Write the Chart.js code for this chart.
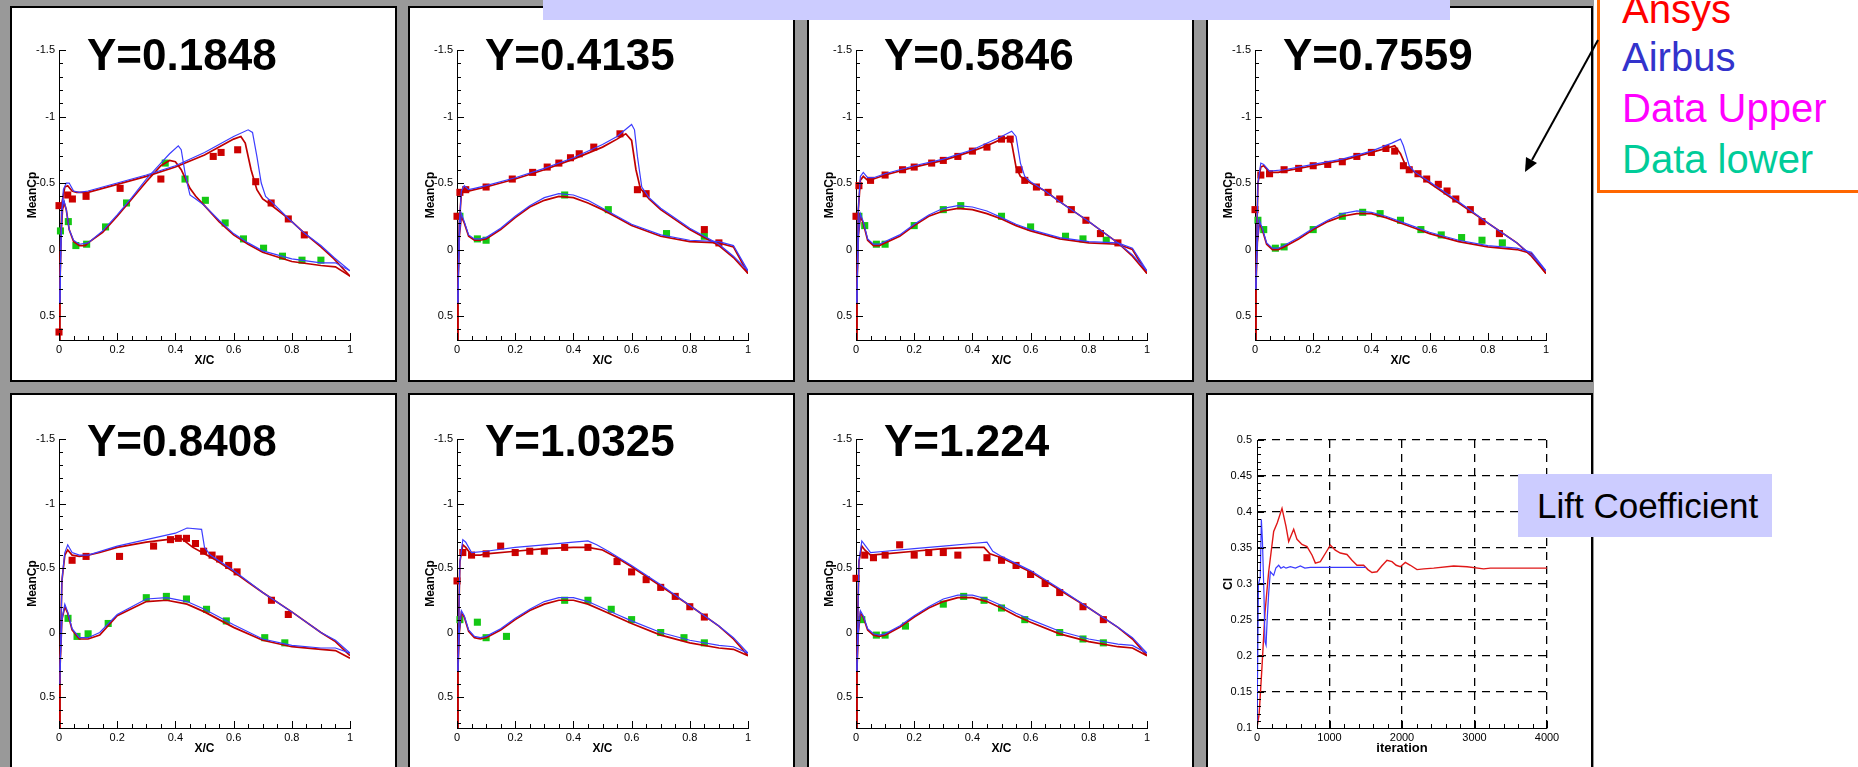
<!DOCTYPE html>
<html>
<head>
<meta charset="utf-8">
<script src="https://cdn.jsdelivr.net/npm/chart.js@4.4.0/dist/chart.umd.min.js"></script>
<style>
  body { margin: 0; width: 1858px; height: 767px; overflow: hidden; background: #fff; position: relative;
         font-family: "Liberation Sans", Arial, sans-serif; }
  #bg { position: absolute; left: 0; top: 0; width: 1594px; height: 767px; background: #999; }
  .panel { position: absolute; background: #fff; border: 2px solid #000; box-sizing: border-box; }
  .panel canvas { position: absolute; left: -2px; top: -2px; }
  .ttl { position: absolute; left: 75px; font-weight: bold; font-size: 44px; line-height: 44px; color: #000; white-space: nowrap; }
  #banner { position: absolute; left: 543px; top: 0; width: 907px; height: 20px; background: #ccccff; }
  #legend { position: absolute; left: 1597px; top: -10px; width: 300px; height: 203px; border: 3px solid #ff6600;
            background: #fff; box-sizing: border-box; }
  .leg { position: absolute; left: 1622px; font-size: 40px; line-height: 40px; white-space: nowrap; }
  #lift { position: absolute; left: 1518px; top: 474px; width: 254px; height: 63px; background: #ccccff;
          font-size: 35px; line-height: 63px; padding-left: 19px; box-sizing: border-box; color: #000; white-space: nowrap; }
  #arrow { position: absolute; left: 0; top: 0; }
</style>
</head>
<body>
<div id="bg"></div>
<div id="panels"></div>
<div id="banner"></div>
<div id="legend"></div>
<div class="leg" style="top:-11px;color:#ff0000">Ansys</div>
<div class="leg" style="top:37px;color:#3333cc">Airbus</div>
<div class="leg" style="top:88px;color:#ff00ff">Data Upper</div>
<div class="leg" style="top:139px;color:#00cc99">Data lower</div>
<svg id="arrow" width="1858" height="767">
  <line x1="1598" y1="40" x2="1532" y2="160" stroke="#000" stroke-width="2"/>
  <polygon points="1525,172 1537,163 1526,157" fill="#000"/>
</svg>
<div id="lift">Lift Coefficient</div>

<script>
// ---- spanwise stations ----
const stationTitles = ["Y=0.1848", "Y=0.4135", "Y=0.5846", "Y=0.7559", "Y=0.8408", "Y=1.0325", "Y=1.224"];

// ---- Y=0.1848 ----
const ansysUp1 = [[0,0.9],[0.002,0.5],[0.005,0.0],[0.01,-0.35],[0.02,-0.47],[0.03,-0.48],[0.045,-0.44],[0.06,-0.43],[0.1,-0.43],[0.15,-0.46],[0.2,-0.49],[0.3,-0.55],[0.4,-0.62],[0.5,-0.71],[0.55,-0.77],[0.6,-0.83],[0.625,-0.85],[0.64,-0.8],[0.66,-0.6],[0.68,-0.45],[0.7,-0.38],[0.72,-0.35],[0.79,-0.23],[0.845,-0.12],[0.9,-0.02],[0.945,0.07],[1,0.2]];
const airbusUp1 = [[0.003,0.4],[0.006,0.0],[0.01,-0.3],[0.015,-0.45],[0.025,-0.5],[0.035,-0.5],[0.05,-0.44],[0.07,-0.43],[0.1,-0.44],[0.2,-0.5],[0.3,-0.56],[0.4,-0.63],[0.5,-0.73],[0.55,-0.79],[0.6,-0.85],[0.65,-0.9],[0.665,-0.88],[0.68,-0.7],[0.695,-0.5],[0.71,-0.4],[0.73,-0.36],[0.79,-0.23],[0.845,-0.12],[0.9,-0.03],[0.945,0.06],[1,0.16]];
const ansysLo1 = [[0,0.9],[0.003,0.3],[0.007,-0.1],[0.012,-0.3],[0.018,-0.35],[0.025,-0.3],[0.035,-0.15],[0.05,-0.06],[0.07,-0.03],[0.09,-0.03],[0.1,-0.05],[0.15,-0.13],[0.2,-0.25],[0.25,-0.38],[0.3,-0.51],[0.35,-0.63],[0.38,-0.67],[0.4,-0.66],[0.42,-0.6],[0.45,-0.46],[0.47,-0.4],[0.5,-0.33],[0.55,-0.21],[0.6,-0.11],[0.65,-0.04],[0.7,0.02],[0.8,0.09],[0.9,0.12],[0.95,0.13],[1,0.2]];
const airbusLo1 = [[0.003,0.4],[0.006,0.0],[0.01,-0.3],[0.017,-0.37],[0.025,-0.3],[0.035,-0.15],[0.05,-0.07],[0.07,-0.04],[0.1,-0.05],[0.15,-0.14],[0.2,-0.26],[0.25,-0.39],[0.3,-0.53],[0.35,-0.65],[0.38,-0.72],[0.41,-0.78],[0.42,-0.75],[0.435,-0.55],[0.45,-0.41],[0.47,-0.38],[0.5,-0.33],[0.55,-0.22],[0.6,-0.12],[0.65,-0.05],[0.7,0.01],[0.8,0.07],[0.9,0.1],[0.95,0.1],[1,0.16]];
const expUp1 = [[0,0.62],[0,-0.33],[0.03,-0.41],[0.046,-0.38],[0.093,-0.4],[0.21,-0.46],[0.35,-0.53],[0.53,-0.7],[0.557,-0.73],[0.614,-0.75],[0.676,-0.51],[0.729,-0.35],[0.788,-0.23],[0.843,-0.11]];
const expLo1 = [[0.005,-0.14],[0.032,-0.21],[0.058,-0.03],[0.095,-0.04],[0.16,-0.17],[0.232,-0.35],[0.365,-0.65],[0.433,-0.53],[0.503,-0.37],[0.571,-0.2],[0.634,-0.08],[0.703,-0.01],[0.768,0.05],[0.835,0.08],[0.9,0.08]];

// ---- Y=0.4135 ----
const ansysUp2 = [[0,0.9],[0.003,0.3],[0.008,-0.2],[0.015,-0.42],[0.025,-0.46],[0.04,-0.44],[0.06,-0.45],[0.1,-0.47],[0.2,-0.53],[0.3,-0.6],[0.4,-0.68],[0.5,-0.77],[0.55,-0.83],[0.58,-0.87],[0.6,-0.82],[0.615,-0.6],[0.63,-0.46],[0.66,-0.38],[0.7,-0.3],[0.8,-0.15],[0.9,-0.03],[0.95,0.06],[1,0.18]];
const airbusUp2 = [[0.003,0.4],[0.008,-0.2],[0.015,-0.44],[0.025,-0.48],[0.04,-0.45],[0.06,-0.46],[0.1,-0.48],[0.2,-0.54],[0.3,-0.61],[0.4,-0.69],[0.5,-0.79],[0.55,-0.85],[0.6,-0.94],[0.61,-0.9],[0.62,-0.7],[0.635,-0.47],[0.66,-0.39],[0.7,-0.31],[0.8,-0.16],[0.9,-0.04],[0.95,0.05],[1,0.16]];
const ansysLo2 = [[0,0.9],[0.003,0.3],[0.008,-0.1],[0.015,-0.25],[0.025,-0.2],[0.04,-0.1],[0.06,-0.07],[0.08,-0.07],[0.1,-0.08],[0.15,-0.15],[0.2,-0.24],[0.25,-0.32],[0.3,-0.37],[0.35,-0.4],[0.4,-0.39],[0.45,-0.35],[0.5,-0.3],[0.55,-0.24],[0.6,-0.18],[0.7,-0.1],[0.8,-0.06],[0.9,-0.05],[0.95,-0.02],[1,0.18]];
const airbusLo2 = [[0.003,0.4],[0.008,-0.1],[0.015,-0.27],[0.025,-0.21],[0.04,-0.11],[0.06,-0.08],[0.08,-0.08],[0.1,-0.09],[0.15,-0.16],[0.2,-0.25],[0.25,-0.33],[0.3,-0.39],[0.35,-0.42],[0.4,-0.41],[0.45,-0.37],[0.5,-0.31],[0.55,-0.25],[0.6,-0.19],[0.7,-0.11],[0.8,-0.07],[0.9,-0.06],[0.95,-0.03],[1,0.16]];
const expUp2 = [[0,-0.25],[0.01,-0.43],[0.03,-0.45],[0.1,-0.47],[0.19,-0.53],[0.26,-0.58],[0.31,-0.62],[0.35,-0.65],[0.39,-0.69],[0.42,-0.72],[0.47,-0.77],[0.56,-0.87],[0.62,-0.45],[0.65,-0.42],[0.85,-0.15],[0.9,-0.05]];
const expLo2 = [[0.01,-0.25],[0.07,-0.08],[0.1,-0.07],[0.37,-0.41],[0.52,-0.3],[0.72,-0.12],[0.85,-0.1]];

// ---- Y=0.5846 ----
const ansysUp3 = [[0,0.9],[0.003,0.3],[0.008,-0.3],[0.015,-0.52],[0.025,-0.55],[0.04,-0.52],[0.06,-0.53],[0.1,-0.56],[0.2,-0.62],[0.3,-0.67],[0.4,-0.74],[0.45,-0.78],[0.5,-0.83],[0.52,-0.84],[0.535,-0.8],[0.55,-0.62],[0.565,-0.55],[0.6,-0.5],[0.65,-0.44],[0.7,-0.36],[0.8,-0.21],[0.9,-0.05],[0.95,0.05],[1,0.18]];
const airbusUp3 = [[0.003,0.4],[0.008,-0.3],[0.015,-0.55],[0.025,-0.58],[0.04,-0.54],[0.06,-0.54],[0.1,-0.57],[0.2,-0.63],[0.3,-0.68],[0.4,-0.75],[0.5,-0.85],[0.535,-0.89],[0.55,-0.85],[0.565,-0.65],[0.58,-0.55],[0.6,-0.51],[0.65,-0.44],[0.7,-0.36],[0.8,-0.21],[0.9,-0.05],[0.95,0.04],[1,0.16]];
const ansysLo3 = [[0,0.9],[0.003,0.3],[0.008,-0.1],[0.015,-0.25],[0.025,-0.2],[0.04,-0.07],[0.06,-0.03],[0.08,-0.03],[0.1,-0.05],[0.15,-0.1],[0.2,-0.18],[0.25,-0.25],[0.3,-0.29],[0.35,-0.31],[0.4,-0.3],[0.45,-0.27],[0.5,-0.23],[0.55,-0.18],[0.6,-0.14],[0.7,-0.08],[0.8,-0.05],[0.9,-0.04],[0.95,0.0],[1,0.18]];
const airbusLo3 = [[0.003,0.4],[0.008,-0.1],[0.015,-0.27],[0.025,-0.21],[0.04,-0.08],[0.06,-0.04],[0.08,-0.04],[0.1,-0.06],[0.15,-0.11],[0.2,-0.19],[0.25,-0.26],[0.3,-0.31],[0.35,-0.33],[0.4,-0.32],[0.45,-0.29],[0.5,-0.24],[0.55,-0.19],[0.6,-0.15],[0.7,-0.09],[0.8,-0.06],[0.9,-0.05],[0.95,-0.01],[1,0.16]];
const expUp3 = [[0,-0.25],[0.01,-0.48],[0.05,-0.52],[0.1,-0.56],[0.16,-0.6],[0.2,-0.62],[0.26,-0.65],[0.3,-0.67],[0.35,-0.7],[0.4,-0.74],[0.45,-0.77],[0.5,-0.83],[0.53,-0.83],[0.56,-0.6],[0.58,-0.52],[0.62,-0.47],[0.66,-0.43],[0.7,-0.38],[0.74,-0.3],[0.79,-0.22],[0.84,-0.12],[0.9,-0.05]];
const expLo3 = [[0.01,-0.25],[0.03,-0.18],[0.07,-0.04],[0.1,-0.04],[0.2,-0.18],[0.3,-0.3],[0.36,-0.33],[0.5,-0.25],[0.6,-0.17],[0.72,-0.1],[0.78,-0.08],[0.86,-0.07]];

// ---- Y=0.7559 ----
const ansysUp4 = [[0,0.9],[0.003,0.2],[0.01,-0.5],[0.02,-0.62],[0.03,-0.63],[0.05,-0.58],[0.08,-0.58],[0.1,-0.59],[0.2,-0.63],[0.3,-0.67],[0.4,-0.73],[0.45,-0.76],[0.48,-0.78],[0.5,-0.72],[0.52,-0.62],[0.55,-0.58],[0.6,-0.5],[0.7,-0.35],[0.8,-0.2],[0.9,-0.05],[0.95,0.05],[1,0.18]];
const airbusUp4 = [[0.003,0.3],[0.01,-0.5],[0.02,-0.65],[0.03,-0.64],[0.05,-0.59],[0.1,-0.6],[0.2,-0.64],[0.3,-0.68],[0.4,-0.74],[0.47,-0.8],[0.5,-0.83],[0.51,-0.78],[0.53,-0.63],[0.55,-0.58],[0.6,-0.51],[0.7,-0.36],[0.8,-0.2],[0.9,-0.05],[0.95,0.04],[1,0.16]];
const ansysLo4 = [[0,0.9],[0.003,0.3],[0.008,-0.05],[0.015,-0.2],[0.025,-0.15],[0.04,-0.04],[0.06,0.0],[0.08,0.0],[0.1,-0.02],[0.15,-0.08],[0.2,-0.15],[0.25,-0.21],[0.3,-0.25],[0.35,-0.27],[0.4,-0.27],[0.45,-0.24],[0.5,-0.2],[0.55,-0.16],[0.6,-0.12],[0.7,-0.06],[0.8,-0.02],[0.9,0.0],[0.95,0.03],[1,0.18]];
const airbusLo4 = [[0.003,0.3],[0.008,-0.05],[0.015,-0.22],[0.025,-0.16],[0.04,-0.05],[0.06,-0.01],[0.08,-0.01],[0.1,-0.03],[0.15,-0.09],[0.2,-0.16],[0.25,-0.22],[0.3,-0.27],[0.35,-0.29],[0.4,-0.28],[0.45,-0.25],[0.5,-0.21],[0.55,-0.17],[0.6,-0.13],[0.7,-0.07],[0.8,-0.03],[0.9,-0.01],[0.95,0.02],[1,0.16]];
const expUp4 = [[0,-0.3],[0.02,-0.56],[0.05,-0.57],[0.1,-0.6],[0.15,-0.61],[0.2,-0.63],[0.25,-0.64],[0.3,-0.66],[0.35,-0.7],[0.4,-0.73],[0.45,-0.76],[0.48,-0.74],[0.51,-0.63],[0.53,-0.6],[0.56,-0.57],[0.59,-0.53],[0.63,-0.49],[0.66,-0.44],[0.69,-0.38],[0.74,-0.3],[0.78,-0.21],[0.84,-0.12]];
const expLo4 = [[0.01,-0.22],[0.03,-0.15],[0.07,-0.01],[0.1,-0.02],[0.2,-0.15],[0.3,-0.25],[0.37,-0.28],[0.43,-0.27],[0.5,-0.22],[0.57,-0.15],[0.64,-0.11],[0.71,-0.09],[0.78,-0.07],[0.85,-0.05]];

// ---- Y=0.8408 ----
const ansysUp5 = [[0,0.9],[0.003,0.3],[0.01,-0.4],[0.02,-0.6],[0.03,-0.64],[0.045,-0.6],[0.07,-0.59],[0.1,-0.6],[0.14,-0.62],[0.2,-0.66],[0.3,-0.7],[0.37,-0.72],[0.42,-0.73],[0.46,-0.66],[0.5,-0.61],[0.54,-0.56],[0.6,-0.47],[0.65,-0.39],[0.7,-0.31],[0.8,-0.16],[0.9,0.0],[0.95,0.07],[1,0.18]];
const airbusUp5 = [[0.003,0.4],[0.01,-0.4],[0.02,-0.62],[0.03,-0.68],[0.045,-0.62],[0.07,-0.6],[0.1,-0.6],[0.2,-0.67],[0.3,-0.72],[0.4,-0.77],[0.44,-0.81],[0.49,-0.8],[0.5,-0.66],[0.52,-0.6],[0.6,-0.48],[0.7,-0.31],[0.8,-0.16],[0.9,0.0],[0.95,0.06],[1,0.16]];
const ansysLo5 = [[0,0.9],[0.003,0.3],[0.01,-0.1],[0.02,-0.2],[0.03,-0.15],[0.045,-0.02],[0.07,0.05],[0.1,0.05],[0.14,0.02],[0.2,-0.13],[0.3,-0.24],[0.37,-0.25],[0.44,-0.22],[0.5,-0.16],[0.6,-0.04],[0.7,0.06],[0.8,0.11],[0.9,0.13],[0.95,0.14],[1,0.2]];
const airbusLo5 = [[0.003,0.3],[0.01,-0.1],[0.02,-0.22],[0.03,-0.16],[0.045,-0.03],[0.07,0.04],[0.1,0.04],[0.14,0.0],[0.2,-0.14],[0.3,-0.26],[0.37,-0.27],[0.44,-0.24],[0.5,-0.18],[0.6,-0.06],[0.7,0.05],[0.8,0.1],[0.9,0.12],[0.95,0.12],[1,0.16]];
const expUp5 = [[0.045,-0.56],[0.093,-0.59],[0.208,-0.59],[0.325,-0.67],[0.383,-0.72],[0.41,-0.73],[0.438,-0.73],[0.469,-0.69],[0.497,-0.63],[0.526,-0.6],[0.552,-0.57],[0.583,-0.52],[0.612,-0.47],[0.73,-0.25],[0.788,-0.14]];
const expLo5 = [[0.031,-0.11],[0.062,0.03],[0.1,0.01],[0.169,-0.07],[0.3,-0.27],[0.369,-0.28],[0.438,-0.26],[0.507,-0.18],[0.575,-0.09],[0.707,0.04],[0.776,0.08]];

// ---- Y=1.0325 ----
const ansysUp6 = [[0,0.9],[0.003,0.2],[0.01,-0.55],[0.02,-0.68],[0.03,-0.66],[0.05,-0.6],[0.08,-0.6],[0.1,-0.61],[0.2,-0.63],[0.3,-0.65],[0.4,-0.66],[0.45,-0.66],[0.5,-0.64],[0.55,-0.58],[0.6,-0.51],[0.7,-0.36],[0.8,-0.21],[0.9,-0.05],[0.95,0.05],[1,0.18]];
const airbusUp6 = [[0.003,0.3],[0.01,-0.55],[0.02,-0.72],[0.03,-0.7],[0.05,-0.62],[0.1,-0.63],[0.2,-0.66],[0.3,-0.68],[0.4,-0.7],[0.45,-0.71],[0.48,-0.68],[0.52,-0.63],[0.6,-0.52],[0.7,-0.37],[0.8,-0.21],[0.9,-0.05],[0.95,0.04],[1,0.16]];
const ansysLo6 = [[0,0.9],[0.003,0.3],[0.008,0.0],[0.015,-0.15],[0.025,-0.12],[0.04,-0.01],[0.06,0.04],[0.08,0.05],[0.1,0.04],[0.15,-0.02],[0.2,-0.1],[0.25,-0.17],[0.3,-0.22],[0.35,-0.25],[0.4,-0.25],[0.45,-0.22],[0.5,-0.17],[0.55,-0.12],[0.6,-0.07],[0.7,0.02],[0.8,0.08],[0.9,0.12],[0.95,0.13],[1,0.18]];
const airbusLo6 = [[0.003,0.3],[0.008,0.0],[0.015,-0.17],[0.025,-0.13],[0.04,-0.02],[0.06,0.03],[0.08,0.04],[0.1,0.03],[0.15,-0.03],[0.2,-0.11],[0.25,-0.18],[0.3,-0.24],[0.35,-0.27],[0.4,-0.27],[0.45,-0.24],[0.5,-0.19],[0.55,-0.14],[0.6,-0.09],[0.7,0.0],[0.8,0.06],[0.9,0.1],[0.95,0.11],[1,0.16]];
const expUp6 = [[0,-0.4],[0.02,-0.62],[0.05,-0.6],[0.1,-0.61],[0.15,-0.67],[0.2,-0.62],[0.25,-0.63],[0.3,-0.63],[0.37,-0.66],[0.45,-0.66],[0.55,-0.55],[0.6,-0.47],[0.65,-0.41],[0.7,-0.35],[0.75,-0.28],[0.8,-0.2],[0.85,-0.12]];
const expLo6 = [[0.01,-0.1],[0.07,-0.08],[0.1,0.04],[0.17,0.03],[0.37,-0.25],[0.45,-0.25],[0.53,-0.18],[0.6,-0.1],[0.7,0.0],[0.78,0.04],[0.85,0.08]];

// ---- Y=1.224 ----
const ansysUp7 = [[0,0.9],[0.003,0.2],[0.01,-0.55],[0.02,-0.67],[0.03,-0.64],[0.05,-0.6],[0.1,-0.61],[0.2,-0.63],[0.3,-0.65],[0.4,-0.66],[0.44,-0.66],[0.46,-0.61],[0.5,-0.58],[0.6,-0.47],[0.7,-0.33],[0.8,-0.19],[0.9,-0.04],[0.95,0.05],[1,0.18]];
const airbusUp7 = [[0.003,0.3],[0.01,-0.55],[0.02,-0.71],[0.03,-0.68],[0.05,-0.62],[0.1,-0.63],[0.2,-0.65],[0.3,-0.67],[0.4,-0.69],[0.45,-0.7],[0.47,-0.63],[0.5,-0.59],[0.6,-0.48],[0.7,-0.34],[0.8,-0.19],[0.9,-0.04],[0.95,0.04],[1,0.16]];
const ansysLo7 = [[0,0.9],[0.003,0.3],[0.008,0.0],[0.015,-0.15],[0.025,-0.12],[0.04,-0.02],[0.06,0.02],[0.08,0.03],[0.1,0.02],[0.15,-0.04],[0.2,-0.12],[0.25,-0.19],[0.3,-0.24],[0.35,-0.27],[0.4,-0.27],[0.45,-0.24],[0.5,-0.19],[0.55,-0.13],[0.6,-0.08],[0.7,0.01],[0.8,0.07],[0.9,0.11],[0.95,0.12],[1,0.18]];
const airbusLo7 = [[0.003,0.3],[0.008,0.0],[0.015,-0.17],[0.025,-0.13],[0.04,-0.03],[0.06,0.01],[0.08,0.02],[0.1,0.01],[0.15,-0.05],[0.2,-0.13],[0.25,-0.2],[0.3,-0.26],[0.35,-0.29],[0.4,-0.29],[0.45,-0.26],[0.5,-0.21],[0.55,-0.15],[0.6,-0.1],[0.7,-0.01],[0.8,0.05],[0.9,0.09],[0.95,0.1],[1,0.16]];
const expUp7 = [[0,-0.42],[0.03,-0.6],[0.06,-0.58],[0.1,-0.6],[0.15,-0.68],[0.2,-0.6],[0.25,-0.62],[0.3,-0.62],[0.35,-0.6],[0.45,-0.58],[0.5,-0.56],[0.55,-0.52],[0.6,-0.45],[0.65,-0.38],[0.7,-0.31],[0.78,-0.2],[0.85,-0.1]];
const expLo7 = [[0.02,-0.1],[0.07,0.02],[0.1,0.02],[0.17,-0.05],[0.3,-0.22],[0.37,-0.28],[0.44,-0.25],[0.5,-0.19],[0.58,-0.1],[0.7,0.0],[0.78,0.05],[0.85,0.08]];

// ---- lift coefficient history ----
const ansysIter = [0,30,69,110,161,230,280,345,400,437,506,552,620,690,760,805,874,940,1012,1080,1149,1241,1310,1379,1471,1530,1586,1655,1720,1793,1862,1920,1977,2046,2115,2207,2300,2437,2713,2897,3126,3218,3500,4000];
const ansysCl = [0.1,0.12,0.185,0.26,0.317,0.373,0.385,0.405,0.38,0.359,0.376,0.362,0.355,0.352,0.34,0.329,0.331,0.342,0.354,0.347,0.343,0.341,0.333,0.326,0.326,0.32,0.316,0.317,0.325,0.333,0.331,0.326,0.324,0.33,0.326,0.32,0.321,0.322,0.325,0.324,0.321,0.322,0.322,0.322];
const airbusIter = [0,20,45,60,75,95,110,125,140,161,184,230,260,299,330,368,400,460,530,598,660,736,1000,1500];
const airbusCl = [0.1,0.3,0.31,0.39,0.36,0.29,0.22,0.215,0.25,0.287,0.317,0.312,0.322,0.326,0.322,0.324,0.322,0.324,0.322,0.325,0.322,0.323,0.323,0.323];

const cpData = [
  [ansysUp1, ansysLo1, airbusUp1, airbusLo1, expUp1, expLo1],
  [ansysUp2, ansysLo2, airbusUp2, airbusLo2, expUp2, expLo2],
  [ansysUp3, ansysLo3, airbusUp3, airbusLo3, expUp3, expLo3],
  [ansysUp4, ansysLo4, airbusUp4, airbusLo4, expUp4, expLo4],
  [ansysUp5, ansysLo5, airbusUp5, airbusLo5, expUp5, expLo5],
  [ansysUp6, ansysLo6, airbusUp6, airbusLo6, expUp6, expLo6],
  [ansysUp7, ansysLo7, airbusUp7, airbusLo7, expUp7, expLo7]
];

const FONT = "Liberation Sans";
Chart.defaults.font.family = FONT;
Chart.defaults.color = "#000";

const ANSYS_RED = "#c00000";
const AIRBUS_BLUE = "#3c3cff";

// plain number labels: -1 not -1.0, 0.5 not 0.50
const plainLabel = v => String(Math.round(v * 1000) / 1000);

// Tecplot style inward ticks, major and minor
const tecTicks = {
  id: "tecTicks",
  afterDraw(chart, args, o) {
    const { ctx, chartArea: a } = chart;
    const xs = chart.scales.x, ys = chart.scales.y;
    ctx.save();
    ctx.strokeStyle = "#000";
    ctx.lineWidth = 1;
    ctx.beginPath();
    const isMajor = (v, step) => Math.abs(v / step - Math.round(v / step)) < 1e-6;
    for (let i = Math.ceil(xs.min / o.xMinor - 1e-6); i <= Math.floor(xs.max / o.xMinor + 1e-6); i++) {
      const v = i * o.xMinor;
      const px = Math.round(xs.getPixelForValue(v)) + 0.5;
      const len = isMajor(v, o.xMajor) ? 7 : 4;
      ctx.moveTo(px, a.bottom);
      ctx.lineTo(px, a.bottom - len);
    }
    for (let i = Math.ceil(ys.min / o.yMinor - 1e-6); i <= Math.floor(ys.max / o.yMinor + 1e-6); i++) {
      const v = i * o.yMinor;
      const py = Math.round(ys.getPixelForValue(v)) + 0.5;
      const len = isMajor(v, o.yMajor) ? 7 : 4;
      ctx.moveTo(a.left, py);
      ctx.lineTo(a.left + len, py);
    }
    ctx.stroke();
    ctx.restore();
  }
};

function xy(arr) {
  return arr.map(p => ({ x: p[0], y: p[1] }));
}
function lineSet(arr, color, w) {
  return { data: xy(arr), showLine: true, borderColor: color, borderWidth: w, pointRadius: 0, tension: 0 };
}
function dotSet(arr, color) {
  return { data: xy(arr), showLine: false, pointStyle: "rect", pointRadius: 5, pointBorderWidth: 0,
           pointBackgroundColor: color, backgroundColor: color, clip: false };
}

const panelLeft = [10, 408, 807, 1206];
const rowTop = [6, 393];
const rowHeight = [376, 380];
// chart area inside a panel, per row: top, bottom, y max
const rowArea = [{ top: 44, bottom: 334, ymax: 0.68 }, { top: 46, bottom: 335, ymax: 0.74 }];
const PW = 387;

const holder = document.getElementById("panels");

function makePanel(col, row) {
  const div = document.createElement("div");
  div.className = "panel";
  div.style.left = panelLeft[col] + "px";
  div.style.top = rowTop[row] + "px";
  div.style.width = PW + "px";
  div.style.height = rowHeight[row] + "px";
  const cv = document.createElement("canvas");
  cv.width = PW;
  cv.height = rowHeight[row];
  div.appendChild(cv);
  holder.appendChild(div);
  return { div, cv };
}

stationTitles.forEach((title, k) => {
  const col = k % 4, row = Math.floor(k / 4);
  const { div, cv } = makePanel(col, row);
  const t = document.createElement("div");
  t.className = "ttl";
  t.style.top = (row === 0 ? 25 : 24) + "px";
  t.textContent = title;
  div.appendChild(t);

  const [aU, aL, bU, bL, eU, eL] = cpData[k];
  const area = rowArea[row];
  const H = rowHeight[row];
  new Chart(cv, {
    type: "scatter",
    data: {
      datasets: [
        lineSet(bU, AIRBUS_BLUE, 1.2), lineSet(bL, AIRBUS_BLUE, 1.2),
        lineSet(aU, ANSYS_RED, 1.7), lineSet(aL, ANSYS_RED, 1.7),
        dotSet(eU, "#cc0000"), dotSet(eL, "#14c814")
      ]
    },
    options: {
      responsive: false,
      animation: false,
      events: [],
      layout: { padding: { left: 0, top: area.top, right: PW - 340, bottom: 0 } },
      plugins: { legend: { display: false }, tooltip: { enabled: false },
                 tecTicks: { xMinor: 0.05, xMajor: 0.2, yMinor: 0.1, yMajor: 0.5 } },
      scales: {
        x: {
          type: "linear", min: 0, max: 1,
          afterFit: s => { s.height = H - area.bottom; },
          grid: { display: false, drawTicks: false },
          border: { display: true, color: "#000", width: 1 },
          ticks: { stepSize: 0.2, padding: 3, font: { size: 11 }, color: "#000", callback: plainLabel },
          title: { display: true, text: "X/C", color: "#000", font: { size: 12, weight: "bold" },
                   padding: { top: 0, bottom: H - area.bottom - 28 } }
        },
        y: {
          type: "linear", reverse: true, min: -1.5, max: area.ymax,
          afterFit: s => { s.width = 49; },
          grid: { display: false, drawTicks: false },
          border: { display: true, color: "#000", width: 1 },
          ticks: { stepSize: 0.5, includeBounds: false, padding: 4, font: { size: 11 }, color: "#000", callback: plainLabel },
          title: { display: true, text: "MeanCp", color: "#000", font: { size: 12, weight: "bold" },
                   padding: { top: 15, bottom: 0 } }
        }
      }
    },
    plugins: [tecTicks]
  });
});

// lift coefficient panel
(function () {
  const { cv } = makePanel(3, 1);
  const H = rowHeight[1];
  const dashColor = ctx => (ctx.tick && ctx.index === 0) ? "rgba(0,0,0,0)" : "#000";
  new Chart(cv, {
    type: "scatter",
    data: {
      datasets: [
        { data: airbusIter.map((v, i) => ({ x: v, y: airbusCl[i] })), showLine: true, borderColor: "#3a3aff",
          borderWidth: 1.2, pointRadius: 0, tension: 0 },
        { data: ansysIter.map((v, i) => ({ x: v, y: ansysCl[i] })), showLine: true, borderColor: "#e01818",
          borderWidth: 1.4, pointRadius: 0, tension: 0 }
      ]
    },
    options: {
      responsive: false,
      animation: false,
      events: [],
      layout: { padding: { left: 0, top: 47, right: PW - 341, bottom: 0 } },
      plugins: { legend: { display: false }, tooltip: { enabled: false },
                 tecTicks: { xMinor: 200, xMajor: 1000, yMinor: 0.01, yMajor: 0.05 } },
      scales: {
        x: {
          type: "linear", min: 0, max: 4000,
          afterFit: s => { s.height = H - 335; },
          grid: { display: true, drawTicks: false, color: dashColor, lineWidth: 1.3 },
          border: { display: true, color: "#000", width: 1, dash: [8, 6] },
          ticks: { stepSize: 1000, padding: 3, font: { size: 11 }, color: "#000", callback: v => String(v) },
          title: { display: true, text: "iteration", color: "#000", font: { size: 13, weight: "bold" },
                   padding: { top: 0, bottom: 17 } }
        },
        y: {
          type: "linear", min: 0.1, max: 0.5,
          afterFit: s => { s.width = 51; },
          grid: { display: true, drawTicks: false, color: dashColor, lineWidth: 1.3 },
          border: { display: true, color: "#000", width: 1, dash: [8, 6] },
          ticks: { stepSize: 0.05, padding: 5, font: { size: 11 }, color: "#000", callback: plainLabel },
          title: { display: true, text: "Cl", color: "#000", font: { size: 12, weight: "bold" },
                   padding: { top: 15, bottom: 0 } }
        }
      }
    },
    plugins: [tecTicks]
  });
})();
</script>
</body>
</html>
